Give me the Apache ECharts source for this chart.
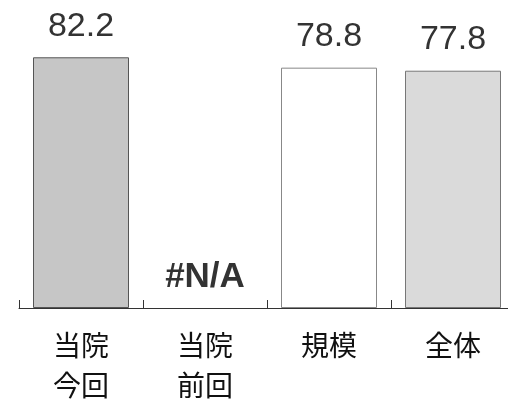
<!DOCTYPE html>
<html>
<head>
<meta charset="utf-8">
<script src="https://cdn.jsdelivr.net/npm/echarts@6/dist/echarts.min.js"></script>
<style>
  html, body { margin: 0; padding: 0; background: #fff; }
  #main { width: 508px; height: 399px; }
</style>
</head>
<body>
<div id="main"></div>
<script>
// categories and values
var categories = ['当院\n今回', '当院\n前回', '規模', '全体'];
var values = [82.2, null, 78.8, 77.8];
var labels = ['82.2', '#N/A', '78.8', '77.8'];

var fills = ['#c6c6c6', '#ffffff', '#ffffff', '#dadada'];
var borders = ['#555', '#fff', '#888', '#777'];

var chart = echarts.init(document.getElementById('main'));

var barData = values.map(function (v, i) {
  return {
    value: v === null ? 0 : v,
    itemStyle: {
      color: fills[i],
      borderColor: borders[i],
      borderWidth: v === null ? 0 : 1
    },
    label: {
      formatter: labels[i],
      fontWeight: v === null ? 'bold' : 'normal',
      fontSize: v === null ? 35 : 34,
      distance: v === null ? 13 : 14
    }
  };
});

var option = {
  backgroundColor: '#fff',
  animation: false,
  grid: {
    left: 19,
    right: -7,
    top: 3,
    bottom: 91,
    outerBoundsMode: 'none',
    containLabel: false
  },
  xAxis: {
    type: 'category',
    data: categories,
    axisLine: { lineStyle: { color: '#333', width: 1 } },
    axisTick: { show: true, length: 8, inside: true, lineStyle: { color: '#333' } },
    axisLabel: {
      color: '#111',
      fontSize: 28,
      lineHeight: 40,
      margin: 17,
      fontFamily: 'Noto Sans CJK JP'
    }
  },
  yAxis: {
    type: 'value',
    min: 0,
    max: 100,
    show: false
  },
  series: [{
    type: 'bar',
    barWidth: 96,
    data: barData,
    label: {
      show: true,
      position: 'top',
      color: '#333',
      fontFamily: 'Liberation Sans'
    }
  }]
};

chart.setOption(option);
</script>
</body>
</html>
